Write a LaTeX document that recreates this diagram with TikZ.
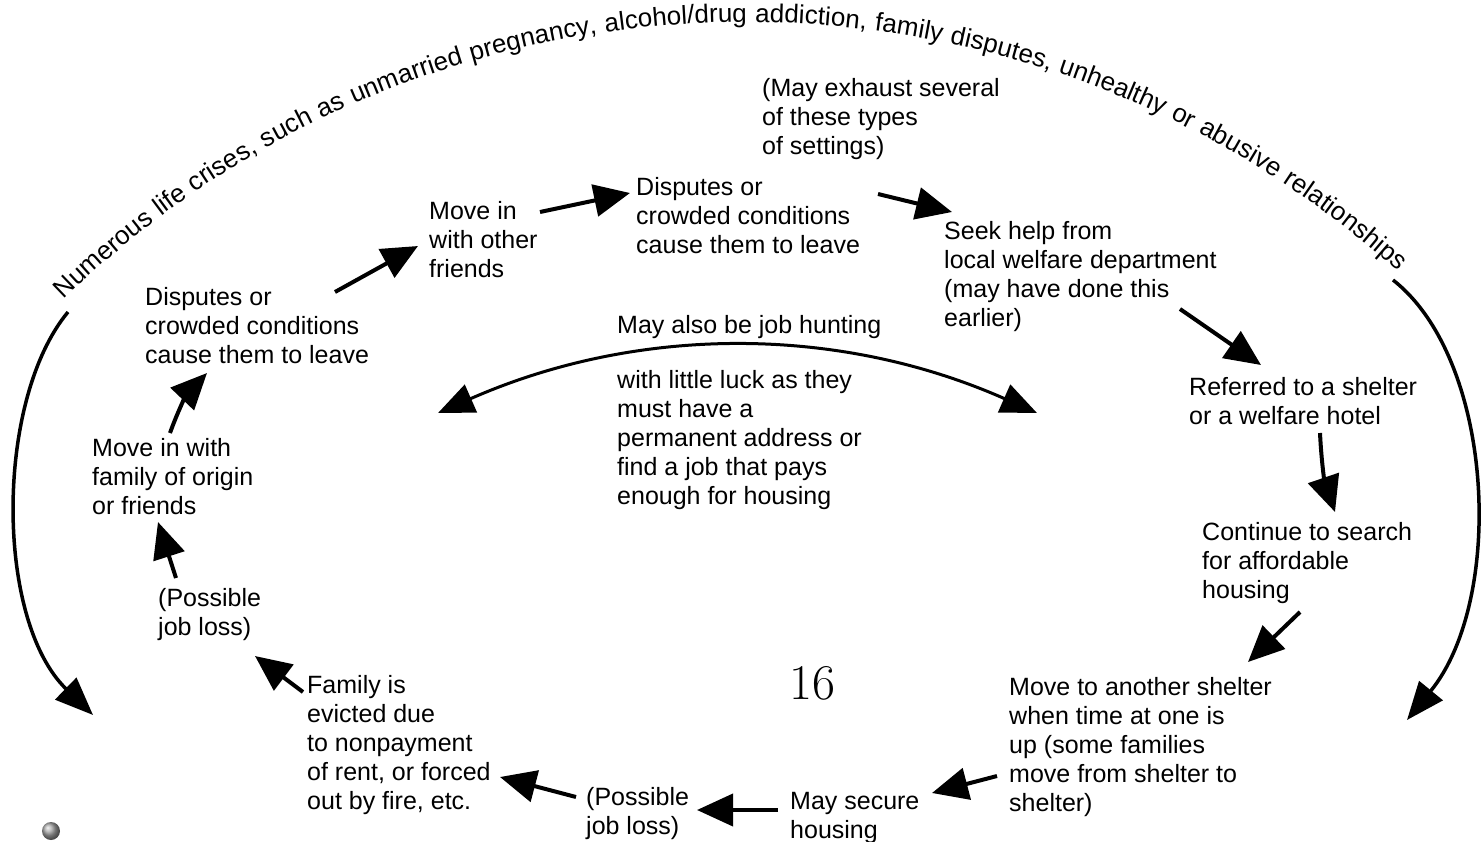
\documentclass[tikz,border=0pt]{standalone}
\usepackage{fontspec}
\newfontfamily\lib{Liberation Sans}
\usetikzlibrary{arrows.meta,decorations.text}
\newcommand\txtfont{\lib\fontsize{25}{29}\selectfont}
\newcommand\curvefont{\lib\fontsize{26}{30}\selectfont}
\begin{document}
\begin{tikzpicture}[x=1pt,y=1pt,
  lbl/.style={anchor=north west, inner sep=0pt, align=left, font=\txtfont},
  arr/.style={line width=4pt, -{Triangle[length=36pt,width=32pt]}},
  outerarc/.style={line width=3.5pt, -{Triangle[length=38pt,width=30pt]}},
  midarc/.style={line width=3pt, {Triangle[length=36pt,width=30pt]}-{Triangle[length=36pt,width=30pt]}}]
\useasboundingbox (0,0) rectangle (1481,-841);

% curved heading text
\coordinate (cc) at (746,-999);
\path[decorate,decoration={text along path,
   text={|\curvefont|Numerous life crises, such as unmarried pregnancy, alcohol/drug addiction, family disputes, unhealthy or abusive relationships},
   text align={fit to path stretching spaces}}]
   (cc) ++(134.3:977pt) arc[start angle=134.3, end angle=48.3, radius=977pt];

% outer arcs
\coordinate (L0) at (68,-312);
\coordinate (L1) at (93,-715);
\coordinate (R0) at (1393,-280);
\coordinate (R1) at (1407,-720);
\draw[outerarc] (L0) .. controls (-5,-400) and (-5,-620) .. (L1);
\draw[outerarc] (R0) .. controls (1495,-360) and (1505,-600) .. (R1);

% text nodes
\node[lbl] (dispA) at (145,-287) {Disputes or\\crowded conditions\\cause them to leave};
\node[lbl] (moveB) at (429,-201) {Move in\\with other\\friends};
\node[lbl] (dispC) at (636,-177) {Disputes or\\crowded conditions\\cause them to leave};
\node[lbl] (exhD) at (762,-78) {(May exhaust several\\of these types\\of settings)};
\node[lbl] (seekE) at (944,-221) {Seek help from\\local welfare department\\(may have done this\\earlier)};
\node[lbl] (refF) at (1189,-377) {Referred to a shelter\\or a welfare hotel};
\node[lbl] (contG) at (1202,-522) {Continue to search\\for affordable\\housing};
\node[lbl] (moveH) at (1009,-677) {Move to another shelter\\when time at one is\\up (some families\\move from shelter to\\shelter)};
\node[lbl] (secI) at (790,-792) {May secure\\housing};
\node[lbl] (lossJ) at (586,-787) {(Possible\\job loss)};
\node[lbl] (evK) at (307,-675) {Family is\\evicted due\\to nonpayment\\of rent, or forced\\out by fire, etc.};
\node[lbl] (lossL) at (158,-588) {(Possible\\job loss)};
\node[lbl] (moveM) at (92,-438) {Move in with\\family of origin\\or friends};
\node[lbl] (huntN) at (617,-315) {May also be job hunting};
\node[lbl] (luckO) at (617,-370) {with little luck as they\\must have a\\permanent address or\\find a job that pays\\enough for housing};
\node (page) at (812,-683) {\fontsize{50}{50}\selectfont 16};

% connector end points
\coordinate (a1s) at (335,-292); \coordinate (a1e) at (418,-246);
\coordinate (a2s) at (540,-212); \coordinate (a2e) at (630,-193);
\coordinate (a3s) at (878,-194); \coordinate (a3e) at (952,-212);
\coordinate (a4s) at (1180,-309); \coordinate (a4e) at (1261,-365);
\coordinate (a5s) at (1320,-433); \coordinate (a5e) at (1335,-512);
\coordinate (a6s) at (1300,-612); \coordinate (a6e) at (1248,-662);
\coordinate (a7s) at (997,-776); \coordinate (a7e) at (932,-793);
\coordinate (a8s) at (778,-810); \coordinate (a8e) at (697,-810);
\coordinate (a9s) at (576,-797); \coordinate (a9e) at (500,-777);
\coordinate (a10s) at (303,-692); \coordinate (a10e) at (255,-656);
\coordinate (a11s) at (176,-578); \coordinate (a11e) at (158,-522);
\coordinate (a12s) at (170,-433); \coordinate (a12e) at (207,-373);
\coordinate (mL) at (438,-413); \coordinate (mR) at (1037,-413);

\draw[arr] (a1s) -- (a1e);
\draw[arr] (a2s) -- (a2e);
\draw[arr] (a3s) -- (a3e);
\draw[arr] (a4s) -- (a4e);
\draw[arr] (a5s) to[bend right=8] (a5e);
\draw[arr] (a6s) -- (a6e);
\draw[arr] (a7s) -- (a7e);
\draw[arr] (a8s) -- (a8e);
\draw[arr] (a9s) -- (a9e);
\draw[arr] (a10s) -- (a10e);
\draw[arr] (a11s) -- (a11e);
\draw[arr] (a12s) to[bend left=12] (a12e);
\draw[midarc] (mL) .. controls (638,-325) and (838,-325) .. (mR);

% small grey ball
\shade[ball color=gray!70] (51,-831) circle (9pt);
\end{tikzpicture}
\end{document}
